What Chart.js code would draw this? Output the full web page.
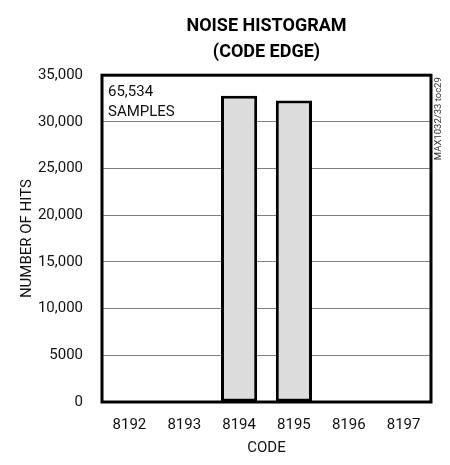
<!DOCTYPE html>
<html>
<head>
<meta charset="utf-8">
<script src="https://cdn.jsdelivr.net/npm/chart.js@4.4.0/dist/chart.umd.min.js"></script>
<style>
  html, body { margin: 0; padding: 0; background: #fff; }
  #wrap { width: 450px; height: 465px; }
</style>
</head>
<body>
<div id="wrap"><canvas id="histChart" width="450" height="465"></canvas></div>
<script>
// data
const codes = ['8192', '8193', '8194', '8195', '8196', '8197'];
const hits = [0, 0, 32800, 32300, 0, 0];
const yTickLabels = ['0', '5000', '10,000', '15,000', '20,000', '25,000', '30,000', '35,000'];
const titleLines = ['NOISE HISTOGRAM', '(CODE EDGE)'];
const noteLines = ['65,534', 'SAMPLES'];
const sideNote = 'MAX1032/33 toc29';

const FONT = "Roboto, 'Liberation Sans', sans-serif";

// frame + text notes drawn on top of the plot
const framePlugin = {
    id: 'frame',
    afterDatasetsDraw(chart) {
        const { ctx, chartArea: a } = chart;
        ctx.save();
        ctx.strokeStyle = '#000';
        ctx.lineWidth = 3;
        ctx.strokeRect(a.left, a.top, a.right - a.left, a.bottom - a.top);

        ctx.fillStyle = '#111';
        ctx.font = '15px ' + FONT;
        ctx.textAlign = 'left';
        ctx.textBaseline = 'alphabetic';
        noteLines.forEach((t, i) => ctx.fillText(t, a.left + 6, a.top + 21 + i * 20));

        ctx.translate(a.right + 8, a.top + 2);
        ctx.rotate(-Math.PI / 2);
        ctx.font = '9.5px ' + FONT;
        ctx.textAlign = 'right';
        ctx.textBaseline = 'middle';
        ctx.fillStyle = '#333';
        ctx.fillText(sideNote, 0, 0);
        ctx.restore();
    }
};

const ctx = document.getElementById('histChart').getContext('2d');
new Chart(ctx, {
    type: 'bar',
    data: {
        labels: codes,
        datasets: [{
            data: hits,
            backgroundColor: '#dcdcdc',
            borderColor: '#000',
            borderWidth: 3,
            borderSkipped: false,
            categoryPercentage: 1,
            barPercentage: 0.66
        }]
    },
    options: {
        responsive: false,
        animation: false,
        layout: { padding: { left: 0, right: 19, top: 0, bottom: 8 } },
        plugins: {
            legend: { display: false },
            tooltip: { enabled: false },
            title: {
                display: true,
                fullSize: false,
                text: titleLines,
                color: '#000',
                font: { family: FONT, size: 18, weight: 'bold', lineHeight: 1.45 },
                padding: { top: 13, bottom: 10 }
            }
        },
        scales: {
            x: {
                grid: { display: false, drawTicks: false },
                border: { display: false },
                ticks: { color: '#111', font: { family: FONT, size: 15 }, padding: 14, maxRotation: 0 },
                title: { display: true, text: 'CODE', color: '#111', font: { family: FONT, size: 15 }, padding: { top: 0, bottom: 0 } },
                afterFit: (s) => { s.height = 55; }
            },
            y: {
                min: 0,
                max: 35000,
                ticks: {
                    stepSize: 5000,
                    color: '#111',
                    font: { family: FONT, size: 15 },
                    padding: 19,
                    callback: (v, i) => yTickLabels[i]
                },
                grid: { color: '#808080', lineWidth: 1, drawTicks: false },
                border: { display: false },
                title: { display: true, text: 'NUMBER OF HITS', color: '#111', font: { family: FONT, size: 15 }, padding: { top: 18, bottom: 4 } },
                afterFit: (s) => { s.width = 102; }
            }
        }
    },
    plugins: [framePlugin]
});
</script>
</body>
</html>
